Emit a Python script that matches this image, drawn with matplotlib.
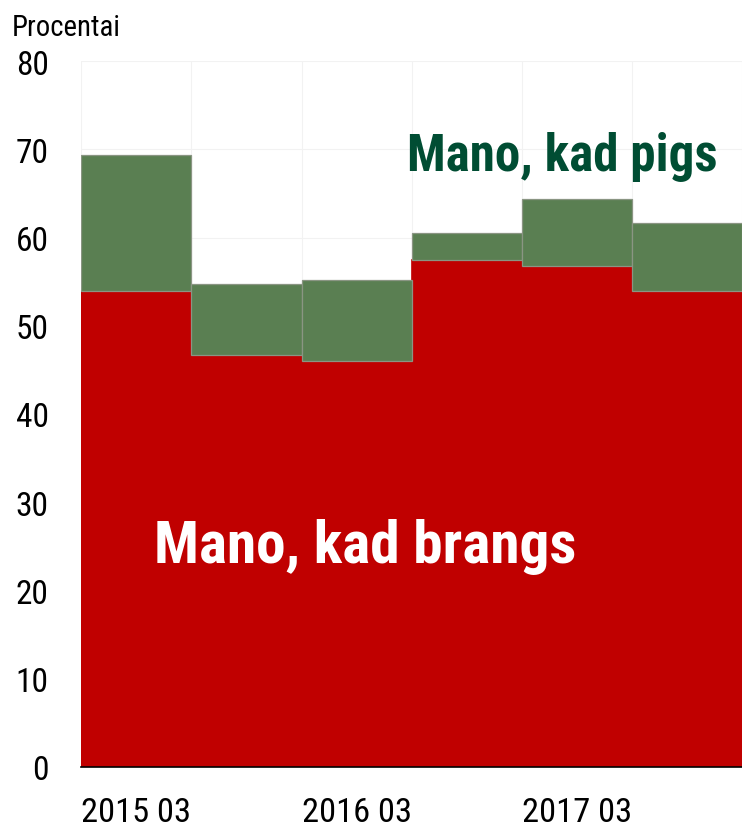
import matplotlib
matplotlib.use("Agg")
import matplotlib.pyplot as plt
from matplotlib import font_manager as fm
import numpy as np

names = {f.name for f in fm.fontManager.ttflist}
prefs = ["Liberation Sans Narrow", "Arial Narrow", "Roboto Condensed", "Archivo Narrow",
         "Pragati Narrow", "PT Sans Narrow", "Fira Sans Condensed", "Liberation Sans"]
FONT = next(n for n in prefs if n in names)
plt.rcParams['font.family'] = [FONT, 'DejaVu Sans']

categories = ["2015 03", "2015 09", "2016 03", "2016 09", "2017 03", "2017 09"]
tick_labels = ["2015 03", "", "2016 03", "", "2017 03", ""]
expensive = [53.9, 46.7, 46.0, 57.5, 56.8, 53.9]   # Mano, kad brangs
cheap = [15.5, 8.0, 9.2, 3.0, 7.6, 7.8]            # Mano, kad pigs

W, H = 742, 829
fig = plt.figure(figsize=(W / 100, H / 100), dpi=100)
renderer = fig.canvas.get_renderer()


def fit_size(text, target_px, weight='normal', ref=30):
    t = fig.text(0, 0, text, fontsize=ref, fontweight=weight)
    w = t.get_window_extent(renderer).width
    t.remove()
    return ref * target_px / w


tick_fs = fit_size("2015 03", 110)
ytick_fs = fit_size("80", 33)
proc_fs = fit_size("Procentai", 109)
pigs_fs = fit_size("Mano, kad pigs", 310, 'bold')
brangs_fs = fit_size("Mano, kad brangs", 423, 'bold')

ax = fig.add_axes([0.1096, 0.0736, 0.8904, 0.9252 - 0.0736])

x = np.arange(len(categories))
ax.bar(x, expensive, width=1.0, color="#C00000", edgecolor="#C00000", linewidth=1.2, zorder=2)
ax.bar(x, cheap, width=1.0, bottom=expensive, color="#5A7F52", edgecolor="#8a9583",
       linewidth=0.9, zorder=2)

ax.set_xlim(-0.5, 5.44)
ax.set_ylim(0, 80)
ax.set_yticks(range(0, 81, 10))
ax.set_xticks(x)
ax.set_xticklabels(tick_labels)
ax.set_xticks(np.arange(-0.5, 6, 1), minor=True)
ax.grid(axis='y', which='major', color="#f2f2f2", linewidth=0.8, zorder=0)
ax.grid(axis='x', which='minor', color="#f2f2f2", linewidth=0.8, zorder=0)
ax.tick_params(axis='both', which='both', length=0)
ax.tick_params(axis='y', labelsize=ytick_fs, pad=23.5)
ax.tick_params(axis='x', labelsize=tick_fs, pad=21)
for s in ['top', 'right', 'left']:
    ax.spines[s].set_visible(False)
ax.spines['bottom'].set_color('black')
ax.spines['bottom'].set_linewidth(1.2)
ax.spines['bottom'].set_zorder(3)

fig.text(11.7 / W, 1 - 36 / H, "Procentai", fontsize=proc_fs, ha='left', va='baseline')
ax.text(3.865, 67.6, "Mano, kad pigs", fontsize=pigs_fs, fontweight='bold', color="#004D33",
        ha='center', va='baseline')
ax.text(2.081, 23.2, "Mano, kad brangs", fontsize=brangs_fs, fontweight='bold', color="white",
        ha='center', va='baseline')

fig.savefig("out.png", dpi=100)
